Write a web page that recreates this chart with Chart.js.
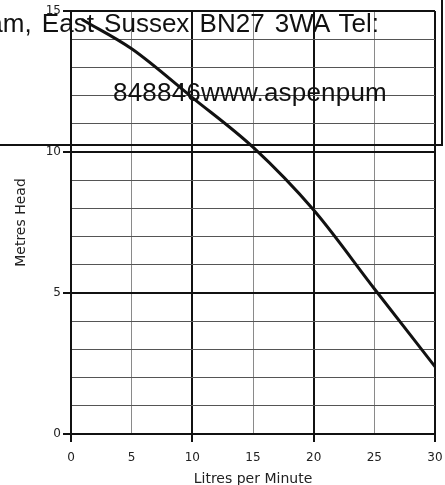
<!DOCTYPE html>
<html>
<head>
<meta charset="utf-8">
<script src="https://cdn.jsdelivr.net/npm/chart.js@4"></script>
<style>
  html, body { margin: 0; padding: 0; background: #fff; overflow: hidden; }
  #wrap { position: relative; width: 445px; height: 485px; overflow: hidden; }
  #c { position: absolute; left: 0; top: 0; }
  #box { position: absolute; left: -10px; top: -10px; width: 453px; height: 156px;
         box-sizing: border-box; border: 2px solid #111; background: transparent; }
  .t { position: absolute; font-family: "Liberation Sans", Arial, sans-serif; font-size: 26px;
       line-height: 26px; color: #111; white-space: nowrap; }
  #l1 { right: 66px; top: 9.6px; word-spacing: 3px; }
  #l2 { left: 113px; top: 78.6px; letter-spacing: 0.2px; }
</style>
</head>
<body>
<div id="wrap">
  <canvas id="c" width="445" height="485"></canvas>
  <div id="box"></div>
  <div class="t" id="l1">am, East Sussex BN27 3WA Tel:</div>
  <div class="t" id="l2">848846www.aspenpum</div>
</div>
<script>
// Data
const flowLpm = [0.9, 5, 10, 15, 20, 25, 30];
const headM   = [14.7, 13.66, 11.93, 10.17, 7.94, 5.15, 2.39];
const xTickLabels = [0, 5, 10, 15, 20, 25, 30];
const yTickLabels = [0, 5, 10, 15];
const xTitle = "Litres per Minute";
const yTitle = "Metres Head";

const points = flowLpm.map((x, i) => ({ x: x, y: headM[i] }));
const tickFont = { family: "DejaVu Sans", size: 12 };

new Chart(document.getElementById('c'), {
  type: 'line',
  data: {
    datasets: [{
      data: points,
      borderColor: '#111',
      borderWidth: 3,
      pointRadius: 0,
      fill: false,
      tension: 0.4,
      cubicInterpolationMode: 'monotone'
    }]
  },
  options: {
    responsive: false,
    animation: false,
    layout: { padding: { top: 11, right: 10, left: 0, bottom: 0 } },
    plugins: { legend: { display: false }, tooltip: { enabled: false } },
    scales: {
      x: {
        type: 'linear', min: 0, max: 30,
        afterFit: s => { s.height = 51; s.paddingLeft = 0; s.paddingRight = 0; },
        ticks: {
          stepSize: 5, padding: 9, color: '#222', font: tickFont, maxRotation: 0,
          callback: v => xTickLabels.includes(v) ? String(v) : ''
        },
        grid: {
          color: c => (c.tick && c.tick.value % 10 === 0) ? '#111' : '#8a8a8a',
          lineWidth: c => (c.tick && c.tick.value % 10 === 0) ? 2 : 1,
          tickColor: c => (c.tick && c.tick.value % 10 === 0) ? '#111' : 'rgba(0,0,0,0)',
          tickLength: 8
        },
        border: { display: true, color: '#111', width: 2 },
        title: {
          display: true, text: xTitle, color: '#222',
          font: { family: "DejaVu Sans", size: 14, lineHeight: 12/14 },
          padding: { top: 0, bottom: 0 }
        }
      },
      y: {
        type: 'linear', min: 0, max: 15,
        afterFit: s => { s.width = 71; s.paddingTop = 0; s.paddingBottom = 0; },
        ticks: {
          stepSize: 1, padding: 2, color: '#222', font: tickFont,
          callback: v => yTickLabels.includes(v) ? String(v) : ''
        },
        grid: {
          color: c => (c.tick && c.tick.value % 5 === 0) ? '#111' : '#555',
          lineWidth: c => (c.tick && c.tick.value % 5 === 0) ? 2 : 1,
          tickColor: c => (c.tick && c.tick.value % 5 === 0) ? '#111' : 'rgba(0,0,0,0)',
          tickLength: 8
        },
        border: { display: true, color: '#111', width: 2 },
        title: {
          display: true, text: yTitle, color: '#222',
          font: { family: "DejaVu Sans", size: 14, lineHeight: 1 },
          padding: { top: 14, bottom: 0 }
        }
      }
    }
  }
});
</script>
</body>
</html>
